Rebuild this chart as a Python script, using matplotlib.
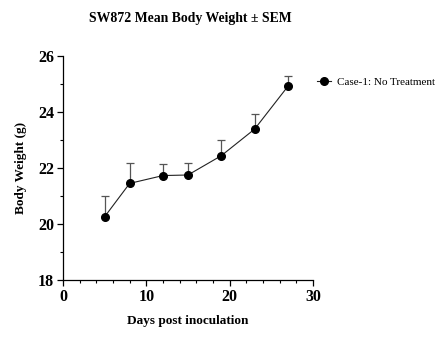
import numpy as np
import matplotlib.pyplot as plt

plt.rcParams['font.family'] = ['Liberation Serif', 'DejaVu Serif']

days = [5, 8, 12, 15, 19, 23, 27]
weight = [20.26, 21.45, 21.73, 21.75, 22.44, 23.39, 24.92]
sem = [0.75, 0.74, 0.42, 0.44, 0.56, 0.54, 0.37]
series_label = "Case-1: No Treatment"

fig = plt.figure(figsize=(4.48, 3.5), dpi=100)
ax = fig.add_axes([0.1406, 0.2, 0.558, 0.64])

ax.errorbar(days, weight, yerr=[np.zeros(len(sem)), sem], color='#222222',
            ecolor='#555555', elinewidth=0.9, capsize=3, capthick=0.9,
            lw=0.8, marker='o', ms=5.5, mfc='black', mec='black',
            label=series_label)

ax.set_xlim(0, 30)
ax.set_ylim(18, 26)
ax.set_xticks([0, 10, 20, 30])
ax.set_xticks(np.arange(0, 31, 2), minor=True)
ax.set_yticks([18, 20, 22, 24, 26])
ax.set_yticks(np.arange(18, 27, 1), minor=True)
for s in ['top', 'right']:
    ax.spines[s].set_visible(False)
for s in ['left', 'bottom']:
    ax.spines[s].set_linewidth(0.9)
ax.tick_params(which='major', length=4, width=0.9, labelsize=11.5, pad=2.5)
ax.tick_params(which='minor', length=2.5, width=0.8)
for lab in ax.get_xticklabels() + ax.get_yticklabels():
    lab.set_fontweight('bold')

ax.set_xlabel("Days post inoculation", fontsize=9.5, fontweight='bold', labelpad=7)
ax.set_ylabel("Body Weight (g)", fontsize=9.5, fontweight='bold', labelpad=8)
fig.text(0.424, 0.947, "SW872 Mean Body Weight \u00b1 SEM", ha='center', va='center',
         fontsize=9.9, fontweight='bold')

handles, labels = ax.get_legend_handles_labels()
h = handles[0][0] if hasattr(handles[0], '__getitem__') else handles[0]
fig.legend([h], labels, loc='center left', bbox_to_anchor=(0.686, 0.765),
           frameon=False, fontsize=8, handlelength=1.2, handletextpad=0.6)

fig.savefig("out.png", dpi=100)
